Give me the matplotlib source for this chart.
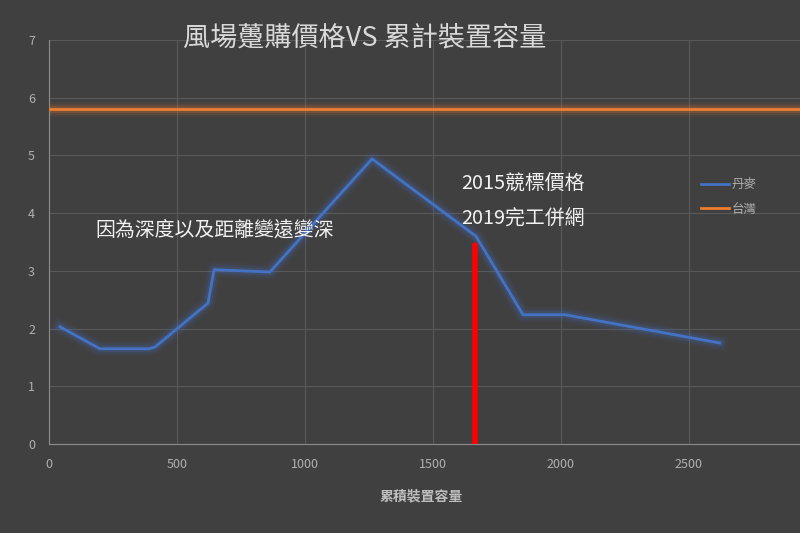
import numpy as np
import matplotlib
matplotlib.use("Agg")
import matplotlib.pyplot as plt
import matplotlib.patheffects as pe
from matplotlib.lines import Line2D

plt.rcParams['font.family'] = ['Noto Sans CJK TC', 'DejaVu Sans']

# 丹麥 資料 (累計裝置容量, 躉購價格)
dk_cap = [43, 199, 390, 414, 621, 645, 863, 1262, 1668, 1852, 2016, 2621]
dk_price = [2.03, 1.65, 1.65, 1.68, 2.44, 3.02, 2.98, 4.94, 3.60, 2.24, 2.24, 1.75]

# 台灣 固定價格
tw_price = 5.8

# 2015 競標 / 2019 併網 標記
mark_cap = 1664
mark_price = 3.45

x_ticks = [0, 500, 1000, 1500, 2000, 2500]
y_ticks = [0, 1, 2, 3, 4, 5, 6, 7]

bg = "#404040"
blue = "#4472C4"
orange = "#ED7D31"


def glow(c):
    return [pe.Stroke(linewidth=11, foreground=c, alpha=0.06),
            pe.Stroke(linewidth=8, foreground=c, alpha=0.10),
            pe.Stroke(linewidth=5, foreground=c, alpha=0.18),
            pe.Normal()]


fig = plt.figure(figsize=(8, 5.33), dpi=100, facecolor=bg)
ax = fig.add_axes([49/800, 89/533, 751/800, 404/533])
ax.set_facecolor(bg)

ax.plot(dk_cap, dk_price, color=blue, lw=2, path_effects=glow(blue), zorder=3)
ax.axhline(tw_price, color=orange, lw=2, path_effects=glow(orange), zorder=3)
ax.plot([mark_cap, mark_cap], [0, mark_price], color="#FF0000", lw=4,
        solid_capstyle="round", zorder=4)

ax.set_xlim(0, 2934)
ax.set_ylim(0, 7)
ax.set_xticks(x_ticks)
ax.set_yticks(y_ticks)
ax.grid(True, color="#595959", lw=0.8)
ax.set_axisbelow(True)
for s in ["top", "right"]:
    ax.spines[s].set_visible(False)
for s in ["left", "bottom"]:
    ax.spines[s].set_color("#8c8c8c")
ax.tick_params(colors="#b0b0b0", labelsize=9, length=0, pad=10)

fig.text(0.456, 0.929, "風場躉購價格VS 累計裝置容量", color="#d9d9d9",
         fontsize=19.5, ha="center", va="center")
ax.text(180, 3.71, "因為深度以及距離變遠變深", color="#f2f2f2", fontsize=14.3,
        ha="left", va="center")
ax.text(1612, 4.5, "2015競標價格", color="#f2f2f2", fontsize=14.3, ha="left", va="center")
ax.text(1612, 3.9, "2019完工併網", color="#f2f2f2", fontsize=14.3, ha="left", va="center")

fig.text(0.527, 0.069, "累積裝置容量", color="#bfbfbf", fontsize=10,
         fontweight="bold", ha="center", va="center")

handles = [Line2D([], [], color=blue, lw=2), Line2D([], [], color=orange, lw=2)]
leg = ax.legend(handles, ["丹麥", "台灣"], loc="upper left",
                bbox_to_anchor=(690/800, 1 - 167/533),
                bbox_transform=fig.transFigure, frameon=False, fontsize=9,
                handlelength=2.2, handletextpad=0.2, labelspacing=0.9)
for t in leg.get_texts():
    t.set_color("#b0b0b0")

fig.savefig("out.png", dpi=100, facecolor=bg)
